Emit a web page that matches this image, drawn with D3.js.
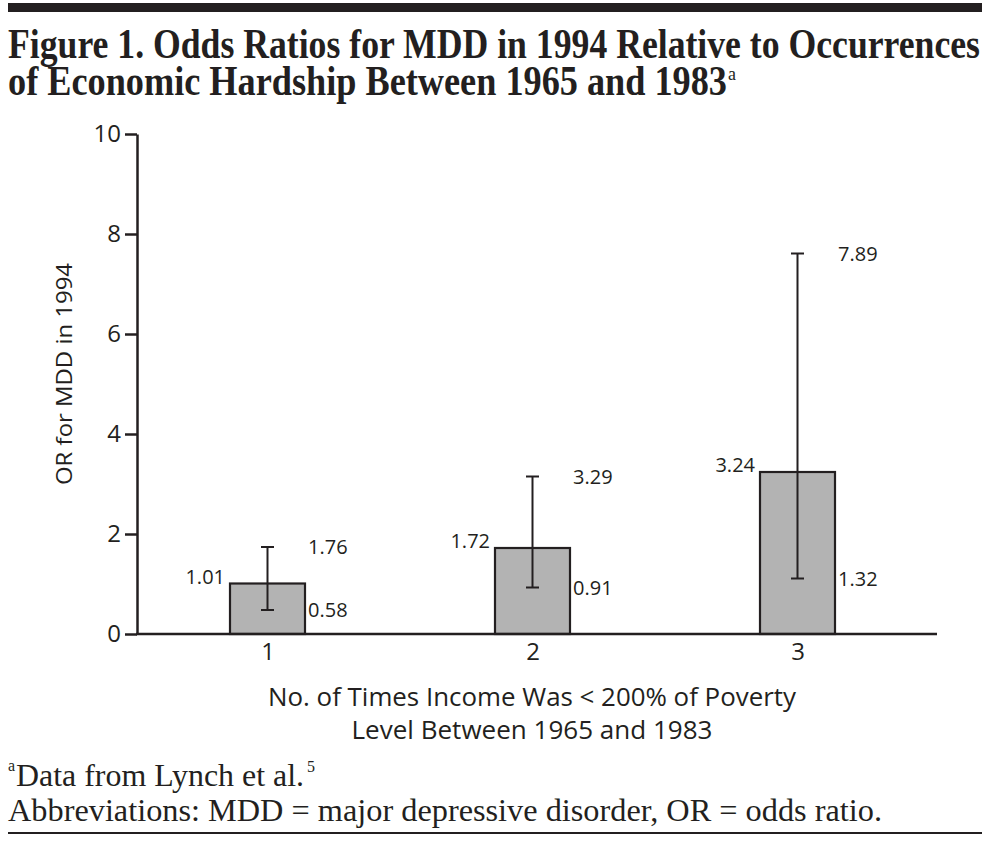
<!DOCTYPE html>
<html>
  <head>
    <meta charset="utf-8" />
    <title>Figure 1. Odds Ratios for MDD</title>
    <script src="https://d3js.org/d3.v7.min.js"></script>
    <style>
      body {
        margin: 0px;
        background-color: white;
      }
      .axis path, .axis line {
        stroke: #231f20;
      }
      .axis text {
        fill: #231f20;
        font-family: "Open Sans", sans-serif;
        font-size: 24px;
      }
    </style>
  </head>
  <body>
    <svg id="chart"></svg>

    <script>
      // values
      var categories = ["1", "2", "3"];
      var orValues = [1.01, 1.72, 3.24];     // bar heights
      var ciLow = [0.48, 0.93, 1.11];        // lower whisker, as drawn
      var ciHigh = [1.74, 3.15, 7.61];       // upper whisker, as drawn
      var orLabels = ["1.01", "1.72", "3.24"];
      var lowLabels = ["0.58", "0.91", "1.32"];
      var highLabels = ["1.76", "3.29", "7.89"];
      var yTicks = [0, 2, 4, 6, 8, 10];

      var width = 990;
      var height = 844;
      var ink = "#231f20";
      var sans = "'Open Sans', sans-serif";
      var serif = "'Liberation Serif', 'Times New Roman', serif";

      var svg = d3.select("#chart")
        .attr("width", width)
        .attr("height", height);

      // rules top and bottom
      svg.append("rect")
        .attr("x", 8).attr("y", 3)
        .attr("width", 974).attr("height", 9)
        .attr("fill", ink);
      svg.append("rect")
        .attr("x", 8).attr("y", 832)
        .attr("width", 974).attr("height", 2)
        .attr("fill", ink);

      // title
      svg.append("text")
        .attr("x", 8).attr("y", 58)
        .attr("font-family", serif)
        .attr("font-weight", "bold")
        .attr("font-size", 42)
        .attr("fill", ink)
        .attr("textLength", 972)
        .attr("lengthAdjust", "spacingAndGlyphs")
        .text("Figure 1. Odds Ratios for MDD in 1994 Relative to Occurrences");
      svg.append("text")
        .attr("x", 8).attr("y", 95)
        .attr("font-family", serif)
        .attr("font-weight", "bold")
        .attr("font-size", 42)
        .attr("fill", ink)
        .attr("textLength", 719)
        .attr("lengthAdjust", "spacingAndGlyphs")
        .text("of Economic Hardship Between 1965 and 1983");
      svg.append("text")
        .attr("x", 728).attr("y", 80)
        .attr("font-family", serif)
        .attr("font-size", 18)
        .attr("fill", ink)
        .text("a");

      // scales
      var x = d3.scalePoint()
        .domain(categories)
        .range([135, 930])
        .padding(0.5);

      var y = d3.scaleLinear()
        .domain([0, 10])
        .range([634, 134]);

      var barWidth = 75;
      var capWidth = 13;

      // y axis
      svg.append("g")
        .attr("class", "axis")
        .attr("transform", "translate(137, 0)")
        .call(d3.axisLeft(y).tickValues(yTicks).tickSize(12).tickSizeOuter(0).tickPadding(4))
        .call(function(g) { g.selectAll("path, line").attr("stroke-width", 2.5); });

      // bars
      svg.append("g").selectAll("rect")
        .data(orValues)
        .enter().append("rect")
        .attr("x", function(d, i) { return x(categories[i]) - barWidth / 2; })
        .attr("y", function(d) { return y(d); })
        .attr("width", barWidth)
        .attr("height", function(d) { return y(0) - y(d); })
        .attr("fill", "#b3b3b3")
        .attr("stroke", ink)
        .attr("stroke-width", 2.2);

      // error bars
      var err = svg.append("g")
        .attr("stroke", ink)
        .attr("stroke-width", 2);
      categories.forEach(function(c, i) {
        var cx = x(c);
        err.append("line")
          .attr("x1", cx).attr("x2", cx)
          .attr("y1", y(ciLow[i])).attr("y2", y(ciHigh[i]));
        err.append("line")
          .attr("x1", cx - capWidth / 2).attr("x2", cx + capWidth / 2)
          .attr("y1", y(ciLow[i])).attr("y2", y(ciLow[i]));
        err.append("line")
          .attr("x1", cx - capWidth / 2).attr("x2", cx + capWidth / 2)
          .attr("y1", y(ciHigh[i])).attr("y2", y(ciHigh[i]));
      });

      // x axis
      var xAxis = svg.append("g")
        .attr("class", "axis")
        .attr("transform", "translate(0, 634)")
        .call(d3.axisBottom(x).tickSize(0).tickPadding(9));
      xAxis.select(".domain").remove();
      svg.append("line")
        .attr("x1", 136).attr("x2", 937)
        .attr("y1", y(0)).attr("y2", y(0))
        .attr("stroke", ink)
        .attr("stroke-width", 2.5);

      // value labels
      var labels = svg.append("g")
        .attr("font-family", sans)
        .attr("font-size", 20)
        .attr("fill", ink);
      labels.selectAll(".or")
        .data(orLabels)
        .enter().append("text")
        .attr("class", "or")
        .attr("text-anchor", "end")
        .attr("x", function(d, i) { return x(categories[i]) - barWidth / 2 - 5; })
        .attr("y", function(d, i) { return y(orValues[i]); })
        .text(function(d) { return d; });
      labels.selectAll(".hi")
        .data(highLabels)
        .enter().append("text")
        .attr("class", "hi")
        .attr("x", function(d, i) { return x(categories[i]) + barWidth / 2 + 3; })
        .attr("y", function(d, i) { return y(ciHigh[i]); })
        .attr("dy", "0.36em")
        .text(function(d) { return d; });
      labels.selectAll(".lo")
        .data(lowLabels)
        .enter().append("text")
        .attr("class", "lo")
        .attr("x", function(d, i) { return x(categories[i]) + barWidth / 2 + 3; })
        .attr("y", function(d, i) { return y(ciLow[i]); })
        .attr("dy", "0.36em")
        .text(function(d) { return d; });

      // axis titles
      svg.append("text")
        .attr("transform", "translate(72, 374) rotate(-90)")
        .attr("text-anchor", "middle")
        .attr("font-family", sans)
        .attr("font-size", 22)
        .attr("fill", ink)
        .attr("textLength", 222)
        .attr("lengthAdjust", "spacingAndGlyphs")
        .text("OR for MDD in 1994");
      svg.append("text")
        .attr("x", 532).attr("y", 706)
        .attr("text-anchor", "middle")
        .attr("font-family", sans)
        .attr("font-size", 25)
        .attr("fill", ink)
        .attr("textLength", 528)
        .attr("lengthAdjust", "spacingAndGlyphs")
        .text("No. of Times Income Was < 200% of Poverty");
      svg.append("text")
        .attr("x", 532).attr("y", 739)
        .attr("text-anchor", "middle")
        .attr("font-family", sans)
        .attr("font-size", 25)
        .attr("fill", ink)
        .attr("textLength", 361)
        .attr("lengthAdjust", "spacingAndGlyphs")
        .text("Level Between 1965 and 1983");

      // footnotes
      svg.append("text")
        .attr("x", 8).attr("y", 771)
        .attr("font-family", serif)
        .attr("font-size", 16)
        .attr("fill", ink)
        .text("a");
      svg.append("text")
        .attr("x", 16).attr("y", 786)
        .attr("font-family", serif)
        .attr("font-size", 31)
        .attr("fill", ink)
        .attr("textLength", 288)
        .attr("lengthAdjust", "spacingAndGlyphs")
        .text("Data from Lynch et al.");
      svg.append("text")
        .attr("x", 307).attr("y", 772)
        .attr("font-family", serif)
        .attr("font-size", 16)
        .attr("fill", ink)
        .text("5");
      svg.append("text")
        .attr("x", 8).attr("y", 821)
        .attr("font-family", serif)
        .attr("font-size", 31)
        .attr("fill", ink)
        .attr("textLength", 874)
        .attr("lengthAdjust", "spacingAndGlyphs")
        .text("Abbreviations: MDD = major depressive disorder, OR = odds ratio.");
    </script>
  </body>
</html>
